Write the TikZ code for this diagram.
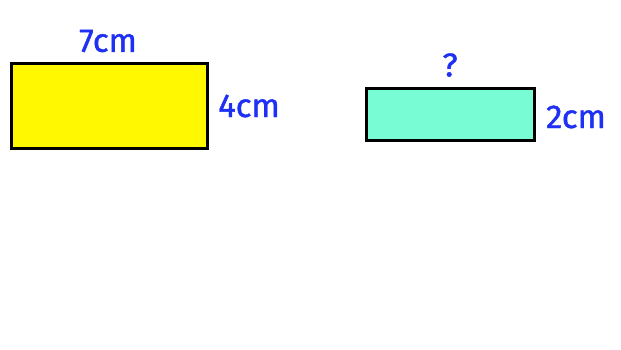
\documentclass[tikz,border=0pt]{standalone}
\usepackage{fontspec}
\setmainfont{Fira Sans}
\newfontfamily\lblfont[FakeBold=1.2]{Fira Sans}
\definecolor{lblblue}{HTML}{1F30F5}
\definecolor{rectyellow}{HTML}{FFF800}
\definecolor{rectteal}{HTML}{77FCD3}
\begin{document}
\begin{tikzpicture}[x=1pt,y=-1pt,
  shape box/.style={draw=black,line width=3pt},
  lbl/.style={text=lblblue,font=\lblfont\fontsize{33}{36}\selectfont,inner sep=0pt,anchor=center}]
\useasboundingbox (0,0) rectangle (621,349);
\fill[white] (0,0) rectangle (621,349);
\draw[shape box,fill=rectyellow] (11.5,63.5) rectangle (207.5,148.5);
\draw[shape box,fill=rectteal] (366.5,88.5) rectangle (534.5,140.5);
\node[lbl] (l7) at (108,41) {7cm};
\node[lbl] (l4) at (249,106) {4cm};
\node[lbl] (lq) at (450,65) {?};
\node[lbl] (l2) at (576,117) {2cm};
\end{tikzpicture}
\end{document}
